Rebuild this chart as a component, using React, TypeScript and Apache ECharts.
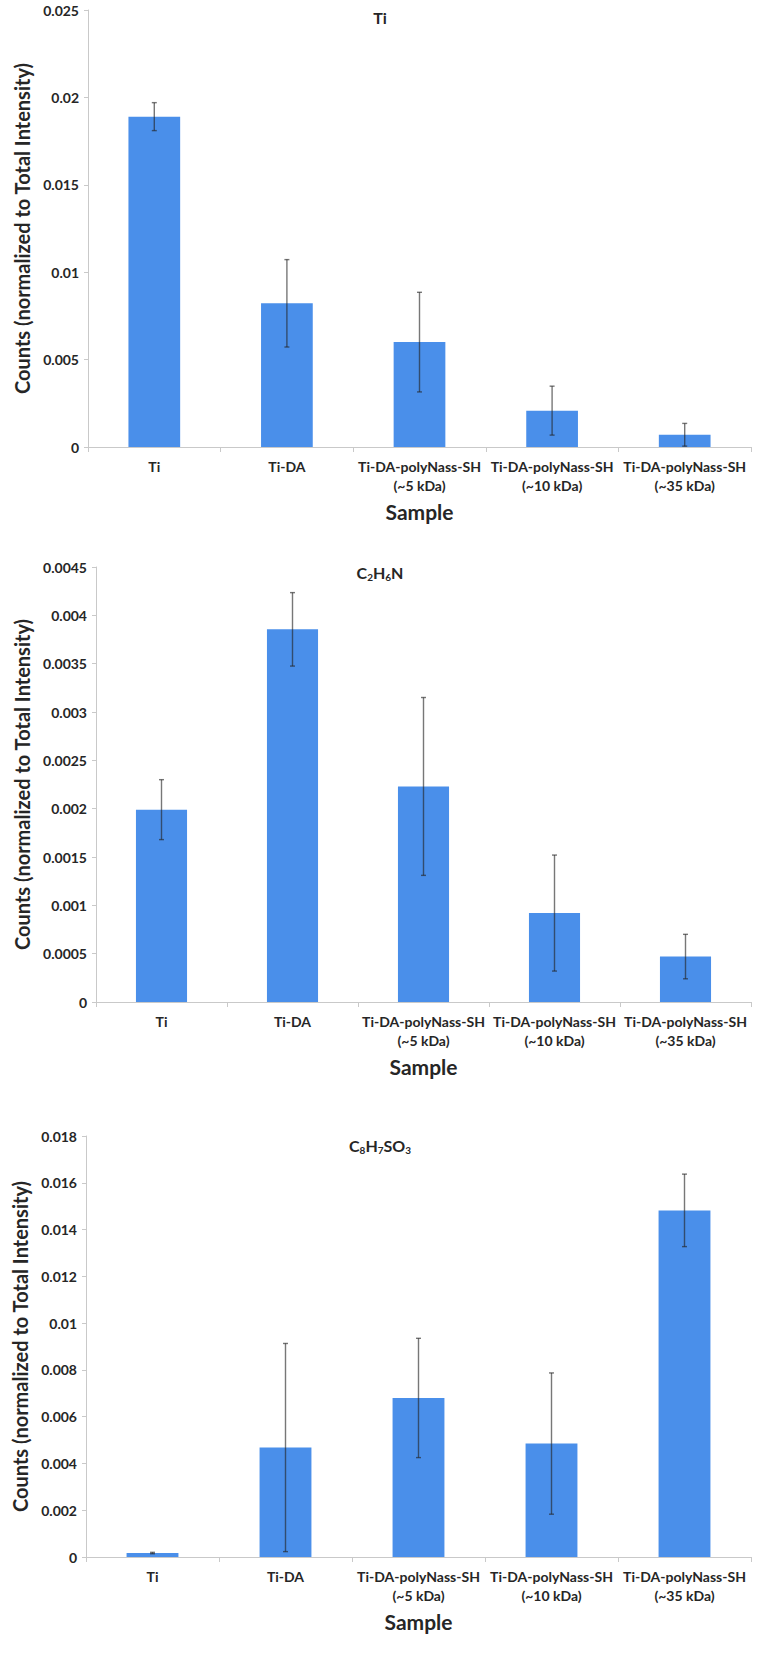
import React, { useEffect, useRef } from "react";
import * as echarts from "echarts";

const categories = [
  "Ti",
  "Ti-DA",
  "Ti-DA-polyNass-SH\n(~5 kDa)",
  "Ti-DA-polyNass-SH\n(~10 kDa)",
  "Ti-DA-polyNass-SH\n(~35 kDa)",
];

const tiMean = [0.0189, 0.00822, 0.006, 0.00208, 0.0007];
const tiErr = [0.0008, 0.0025, 0.00285, 0.0014, 0.00065];

const c2h6nMean = [0.00199, 0.003855, 0.00223, 0.00092, 0.00047];
const c2h6nErr = [0.00031, 0.00038, 0.00092, 0.0006, 0.00023];

const c8Mean = [0.00017, 0.00468, 0.0068, 0.00485, 0.01482];
const c8Err = [0.00003, 0.00445, 0.00255, 0.00302, 0.00155];

const yMax = [0.025, 0.0045, 0.018];
const yStep = [0.005, 0.0005, 0.002];

const FONT = "Lato, 'Noto Sans', sans-serif";
const TEXT = "#262626";
const BAR = "#4a8fea";
const AXIS = "#c9c9c9";

const grids = [
  { left: 88, right: 9, top: 10, height: 437 },
  { left: 96, right: 9, top: 567, height: 435 },
  { left: 86, right: 9, top: 1136, height: 421 },
];
const nameGaps = [55, 63, 53];

const means = [tiMean, c2h6nMean, c8Mean];
const errs = [tiErr, c2h6nErr, c8Err];

export default function App() {
  const ref = useRef<HTMLDivElement>(null);
  useEffect(() => {
    if (!ref.current) return;
    const chart = echarts.init(ref.current, undefined, { renderer: "svg" });

    const errRender = (params: any, api: any) => {
      const x = api.value(0);
      const lo = api.coord([x, api.value(1)]);
      const hi = api.coord([x, api.value(2)]);
      const style = { stroke: "rgba(35,35,35,0.62)", lineWidth: 1.4 };
      const cap = 2.5;
      return {
        type: "group",
        children: [
          { type: "line", shape: { x1: hi[0], y1: hi[1], x2: lo[0], y2: lo[1] }, style },
          { type: "line", shape: { x1: hi[0] - cap, y1: hi[1], x2: hi[0] + cap, y2: hi[1] }, style },
          { type: "line", shape: { x1: lo[0] - cap, y1: lo[1], x2: lo[0] + cap, y2: lo[1] }, style },
        ],
      };
    };

    const titleRich = {
      m: { fontSize: 16, fontWeight: "bold", fontFamily: FONT, color: TEXT, lineHeight: 20 },
      s: { fontSize: 10, fontWeight: "bold", fontFamily: FONT, color: TEXT, lineHeight: 12, verticalAlign: "bottom" },
    };

    const titles = [
      { text: "{m|Ti}", top: 7 },
      { text: "{m|C}{s|2}{m|H}{s|6}{m|N}", top: 562 },
      { text: "{m|C}{s|8}{m|H}{s|7}{m|SO}{s|3}", top: 1135 },
    ].map((t) => ({
      text: t.text,
      left: 380,
      top: t.top,
      textAlign: "center",
      padding: 0,
      textStyle: { rich: titleRich },
    }));

    const option: any = {
      animation: false,
      title: titles,
      grid: grids,
      xAxis: grids.map((_, i) => ({
        type: "category",
        gridIndex: i,
        data: categories,
        name: "Sample",
        nameLocation: "middle",
        nameGap: 54,
        nameTextStyle: { fontSize: 21, fontWeight: "bold", fontFamily: FONT, color: TEXT },
        axisLine: { lineStyle: { color: AXIS, width: 1 } },
        axisTick: { show: true, length: 5, lineStyle: { color: AXIS } },
        axisLabel: {
          interval: 0,
          margin: 10,
          fontSize: 14,
          fontWeight: "bold",
          fontFamily: FONT,
          color: TEXT,
          lineHeight: 19,
        },
      })),
      yAxis: grids.map((_, i) => ({
        type: "value",
        gridIndex: i,
        min: 0,
        max: yMax[i],
        interval: yStep[i],
        name: "Counts (normalized to Total Intensity)",
        nameLocation: "middle",
        nameGap: nameGaps[i],
        nameTextStyle: { fontSize: 20, fontWeight: "bold", fontFamily: FONT, color: TEXT },
        splitLine: { show: false },
        axisLine: { show: true, lineStyle: { color: AXIS, width: 1 } },
        axisTick: { show: true, length: 4, lineStyle: { color: AXIS } },
        axisLabel: {
          margin: 9,
          fontSize: 14,
          fontWeight: "bold",
          fontFamily: FONT,
          color: TEXT,
          formatter: (v: number) => String(+v.toFixed(6)),
        },
      })),
      series: [
        ...means.map((m, i) => ({
          type: "bar",
          xAxisIndex: i,
          yAxisIndex: i,
          data: m,
          barWidth: "39%",
          itemStyle: { color: BAR },
          z: 2,
        })),
        ...means.map((m, i) => ({
          type: "custom",
          xAxisIndex: i,
          yAxisIndex: i,
          z: 10,
          renderItem: errRender,
          data: m.map((v, j) => [j, v - errs[i][j], v + errs[i][j]]),
        })),
      ],
    };
    chart.setOption(option);
    return () => chart.dispose();
  }, []);
  return (
    <div
      ref={ref}
      style={{ position: "absolute", left: 0, top: 0, width: 760, height: 1668, background: "#fff" }}
    />
  );
}
